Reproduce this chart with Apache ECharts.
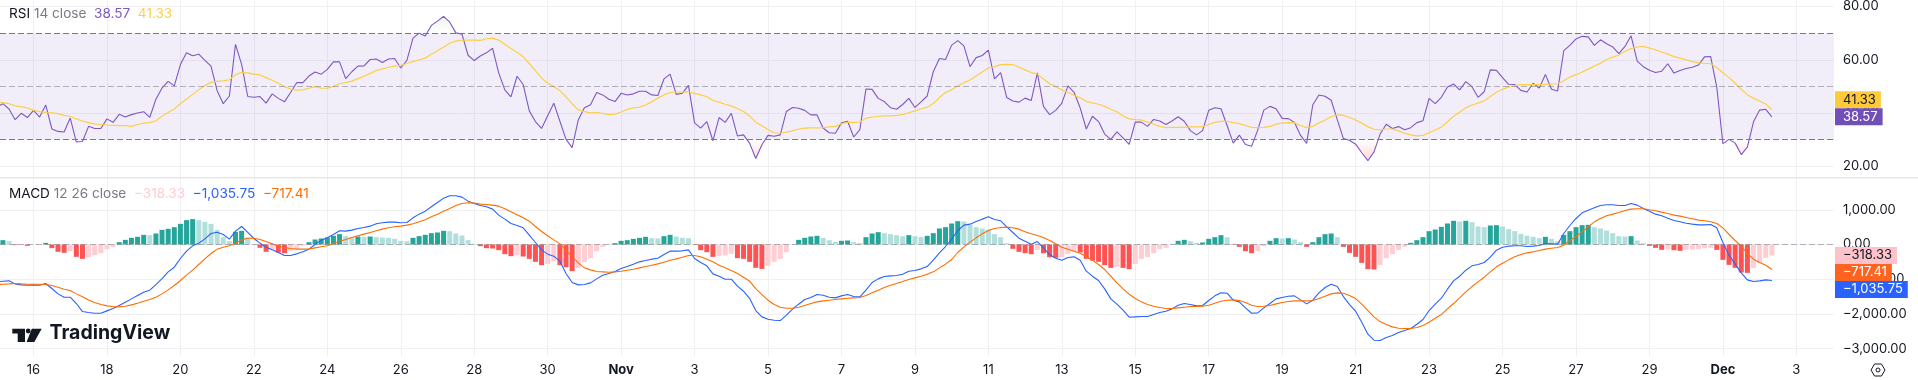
<!DOCTYPE html>
<html>
<head>
<meta charset="utf-8">
<title>RSI / MACD</title>
<style>
  html, body { margin: 0; padding: 0; background: #fff; }
  #chart { width: 1918px; height: 380px; }
</style>
<script src="https://cdn.jsdelivr.net/npm/echarts@6/dist/echarts.min.js"></script>
</head>
<body>
<div id="chart"></div>
<script>
// values, one per 4h bar (first one sits just off the left edge)
const rsiValues = [42.2,
  43.5,41.5,37.5,39.9,38.3,41.0,38.5,43.0,34.0,33.1,32.9,38.1,29.1,29.3,35.0,34.2,34.2,37.8,36.5,39.5,
  38.5,39.4,40.0,40.5,38.4,45.2,49.4,51.9,50.2,58.2,62.6,61.5,62.1,59.8,57.6,48.4,43.5,46.4,65.8,58.3,
  46.2,45.9,46.2,43.7,47.2,45.5,44.2,47.7,51.4,51.4,53.9,55.4,54.6,56.4,59.2,59.2,52.9,55.5,57.6,57.7,
  60.1,60.3,59.0,60.3,60.5,56.9,59.8,68.1,70.0,68.9,72.9,74.5,76.3,74.1,70.1,69.6,61.7,59.7,61.4,
  62.6,64.3,55.1,48.7,46.1,53.8,50.7,40.8,36.8,34.2,39.0,43.7,36.9,30.1,27.0,37.4,42.0,43.1,47.7,46.8,
  45.2,44.3,47.4,46.8,47.2,48.2,48.2,46.8,46.6,52.8,54.6,47.0,47.4,50.4,36.3,34.3,36.8,29.6,38.3,36.5,
  39.9,31.4,31.8,28.6,22.9,28.1,31.6,31.3,31.8,40.6,42.1,41.8,41.0,39.3,39.3,34.4,32.6,32.4,36.3,36.9,
  31.0,33.8,49.0,48.9,45.5,44.3,42.0,41.4,43.2,45.5,42.1,44.2,46.4,55.5,60.5,60.1,65.5,67.2,
  65.2,57.4,60.8,61.6,63.6,52.8,55.2,45.8,44.5,44.1,45.6,44.7,55.1,42.5,39.4,41.0,43.7,50.2,47.8,41.9,
  34.0,38.8,36.8,32.1,30.1,32.9,30.7,28.2,36.6,36.6,35.0,37.6,37.0,35.7,37.0,38.6,36.9,33.4,31.8,33.4,
  41.0,42.0,41.6,35.3,28.7,31.7,28.2,27.5,33.6,41.1,42.5,41.6,38.0,37.9,36.5,31.6,28.6,43.1,46.8,46.3,
  44.8,37.5,30.4,29.8,28.3,25.1,22.1,25.4,32.1,35.8,34.2,34.9,33.7,34.5,36.4,37.1,45.5,43.5,
  45.9,49.8,50.9,48.7,51.8,49.9,45.9,48.0,56.2,56.0,53.3,50.8,50.7,48.5,47.9,51.2,49.4,54.5,48.9,48.3,
  63.4,65.4,67.8,68.8,68.6,65.4,67.5,66.0,64.8,62.3,65.0,69.0,59.5,57.4,56.1,55.2,55.7,58.5,55.0,56.0,
  56.7,57.2,58.0,61.1,61.2,49.7,28.5,30.1,28.7,24.4,27.2,36.7,41.1,41.4,38.57];

const rsiMa = [44.2,
  43.9,43.5,42.7,42.4,41.9,41.1,40.5,40.2,40.1,39.8,39.1,38.8,37.8,37.0,36.4,35.9,35.7,35.5,35.4,35.3,
  35.3,35.0,35.7,36.2,36.4,37.1,38.8,40.2,41.5,43.5,45.3,47.0,48.7,50.3,51.5,51.9,52.1,52.5,54.4,55.2,
  55.1,54.6,54.3,53.3,52.3,51.2,49.9,49.0,48.6,48.7,49.3,49.9,49.3,49.3,50.0,51.0,51.4,52.0,52.9,53.8,
  54.9,56.0,56.6,57.2,57.6,57.9,58.6,59.3,60.0,60.6,62.1,63.4,64.8,66.2,67.0,67.4,67.4,67.4,67.3,
  67.9,68.1,67.4,65.8,64.2,62.8,61.1,58.6,55.9,53.1,51.2,50.0,48.4,46.1,43.5,41.2,40.5,40.1,40.2,39.9,
  39.4,39.6,40.4,41.4,41.9,42.2,43.0,44.2,45.6,46.8,47.7,47.9,47.9,48.0,47.4,46.8,46.1,44.7,44.1,43.3,
  42.7,41.7,40.6,38.9,36.5,35.2,33.8,32.6,32.4,32.8,33.3,34.0,34.3,34.4,34.4,34.5,34.8,35.0,36.0,36.5,
  36.5,36.6,38.0,38.5,38.8,38.9,38.9,39.1,39.4,40.1,40.8,41.5,42.2,43.6,45.8,47.7,48.7,50.2,
  51.4,52.4,53.9,55.4,56.9,57.4,58.2,58.3,58.2,57.2,56.2,55.2,54.6,52.8,51.0,49.9,48.7,47.7,46.7,45.7,
  44.3,43.8,43.3,42.5,41.4,40.5,38.9,37.8,37.5,37.4,36.6,35.8,35.0,34.5,34.6,34.6,34.6,34.8,34.8,34.9,
  35.7,36.5,36.9,36.9,36.4,36.0,35.3,34.6,34.5,34.6,35.0,35.8,36.2,36.4,36.3,35.3,34.5,35.0,36.3,37.4,
  38.6,39.3,39.1,38.3,37.4,36.2,34.9,33.9,33.7,34.0,34.0,33.3,32.4,31.8,31.4,31.6,32.6,33.6,
  34.7,36.7,38.8,40.4,42.0,43.0,43.7,44.6,46.2,47.8,48.9,49.8,50.3,50.7,50.7,50.7,50.7,50.8,50.9,50.9,
  52.1,53.5,54.4,55.4,56.5,57.6,58.7,60.1,61.0,61.8,63.1,64.2,64.8,65.0,64.4,63.7,62.9,62.1,61.2,60.6,
  60.0,59.3,58.8,58.7,58.5,57.1,55.1,53.3,51.2,48.9,46.9,45.5,44.5,43.4,41.33];

const macdValues = [-1075,
  -1056,-1046,-1133,-1162,-1171,-1162,-1171,-1123,-1267,-1421,-1517,-1517,-1699,-1930,-1958,-1978,-1978,-1910,-1843,-1757,
  -1661,-1565,-1469,-1373,-1315,-1152,-979,-787,-653,-403,-192,-38,38,163,317,355,288,154,384,518,
  346,173,38,-77,-154,-230,-317,-317,-269,-211,-134,0,125,192,288,394,384,413,461,490,
  528,595,624,643,643,624,634,768,874,960,1085,1210,1334,1402,1402,1363,1248,1181,1123,
  1085,1018,845,730,605,547,480,269,58,-154,-278,-336,-480,-835,-1094,-1162,-1152,-1104,-989,-883,
  -835,-778,-691,-634,-566,-499,-461,-422,-394,-288,-192,-192,-182,-154,-403,-518,-614,-845,-912,-998,
  -998,-1200,-1344,-1555,-1901,-2083,-2150,-2179,-2189,-2035,-1862,-1718,-1584,-1526,-1440,-1459,-1517,-1536,-1478,-1440,
  -1498,-1507,-1315,-1094,-989,-922,-902,-893,-854,-768,-749,-701,-634,-451,-240,-58,154,403,
  557,586,662,730,797,720,682,509,346,182,96,10,86,-96,-288,-394,-451,-374,-355,-451,
  -768,-912,-1037,-1277,-1565,-1718,-1891,-2093,-2083,-2074,-2074,-2016,-1958,-1920,-1853,-1747,-1699,-1728,-1766,-1757,
  -1613,-1478,-1392,-1402,-1603,-1651,-1824,-1978,-1968,-1824,-1699,-1565,-1526,-1488,-1478,-1594,-1709,-1603,-1392,-1238,
  -1142,-1210,-1498,-1728,-1920,-2237,-2582,-2755,-2765,-2678,-2621,-2534,-2477,-2419,-2294,-2160,-1901,-1718,
  -1546,-1286,-1046,-912,-739,-614,-576,-518,-365,-163,-77,-48,-38,-38,-58,-48,-29,29,19,10,
  317,547,749,912,989,1056,1123,1142,1142,1123,1123,1181,1133,1037,960,874,826,758,691,653,
  614,586,566,566,576,480,58,-307,-566,-816,-1018,-1066,-1046,-1018,-1035.75];

const signalValues = [-1152,
  -1142,-1133,-1123,-1133,-1142,-1142,-1142,-1152,-1181,-1229,-1286,-1325,-1421,-1507,-1594,-1670,-1728,-1766,-1786,-1795,
  -1776,-1738,-1690,-1632,-1584,-1517,-1421,-1306,-1181,-1037,-883,-739,-576,-413,-259,-134,-77,-38,38,134,
  182,182,144,86,19,-48,-86,-115,-134,-134,-125,-96,-67,-38,29,96,144,202,250,298,
  346,394,442,480,509,528,557,595,653,710,797,874,960,1037,1123,1181,1200,1190,1162,
  1152,1133,1104,1027,941,854,768,672,518,374,250,134,19,-163,-355,-528,-672,-730,-778,-787,
  -797,-787,-768,-739,-710,-672,-634,-595,-557,-509,-451,-413,-365,-317,-317,-355,-422,-499,-595,-672,
  -749,-835,-941,-1056,-1267,-1440,-1603,-1728,-1805,-1834,-1834,-1805,-1757,-1699,-1651,-1622,-1603,-1584,-1565,-1546,
  -1536,-1526,-1469,-1392,-1315,-1238,-1171,-1123,-1066,-1008,-960,-912,-854,-787,-672,-566,-432,-230,
  -67,67,192,307,403,461,490,499,480,442,365,307,259,202,115,19,-77,-134,-192,-250,
  -346,-451,-576,-720,-912,-1104,-1277,-1430,-1555,-1651,-1728,-1776,-1814,-1843,-1843,-1824,-1805,-1786,-1786,-1776,
  -1747,-1690,-1632,-1603,-1594,-1613,-1670,-1747,-1786,-1776,-1757,-1709,-1670,-1642,-1622,-1622,-1622,-1613,-1555,-1488,
  -1421,-1392,-1402,-1469,-1555,-1718,-1901,-2083,-2218,-2304,-2371,-2410,-2419,-2419,-2390,-2333,-2237,-2122,
  -2016,-1853,-1699,-1536,-1363,-1210,-1075,-941,-787,-643,-538,-442,-355,-288,-240,-211,-173,-134,-106,-86,
  -19,115,230,365,509,653,749,826,874,922,979,1018,1027,1027,998,970,931,893,845,816,
  778,739,701,682,653,605,480,288,115,-48,-259,-422,-518,-595,-717.41];

const histValues = [100,
  125,96,-19,-19,-38,-10,-10,48,-106,-211,-240,-192,-355,-413,-365,-307,-250,-134,-67,67,
  134,192,221,278,269,317,422,451,499,595,701,730,701,653,595,422,211,96,365,394,
  202,10,-96,-211,-154,-230,-250,-173,-125,-38,67,144,173,202,250,298,240,211,230,221,
  230,211,202,192,163,106,96,192,240,278,326,346,394,384,317,259,125,19,-48,
  -106,-115,-163,-278,-336,-307,-346,-413,-499,-595,-557,-480,-595,-653,-768,-672,-509,-394,-192,-67,
  -5,38,106,125,163,192,221,182,173,240,278,230,192,182,-10,-163,-221,-355,-336,-317,
  -269,-394,-413,-499,-672,-701,-614,-499,-413,-221,3,134,192,230,250,192,125,77,106,115,
  67,38,211,317,355,326,298,269,240,269,240,221,250,326,461,499,605,672,
  662,566,499,461,432,298,211,38,-125,-211,-250,-278,-154,-250,-365,-384,-365,-269,-211,-230,
  -413,-461,-499,-595,-672,-643,-672,-710,-557,-413,-365,-250,-134,-96,-10,106,134,96,48,58,
  163,211,269,211,-10,-67,-192,-250,-192,-48,106,182,173,182,144,67,-67,67,211,298,
  317,211,-67,-240,-355,-528,-710,-720,-586,-394,-278,-154,-67,48,125,211,384,432,
  509,605,682,662,682,643,518,499,547,557,518,442,384,307,250,221,182,221,163,96,
  278,384,499,557,566,499,461,403,326,240,230,240,115,38,-38,-96,-154,-144,-163,-182,
  -154,-144,-134,-106,-96,-154,-442,-586,-672,-806,-816,-672,-528,-384,-318.33];

// x axis: one label every 12 bars, starting at bar 5
const dateTicks = ['16','18','20','22','24','26','28','30','Nov','3','5','7','9','11','13','15','17','19','21','23','25','27','29','Dec','3'];
const boldTicks = ['Nov', 'Dec'];
const rsiTicks = [20, 40, 60, 80];
const macdTicks = [-3000, -2000, -1000, 0, 1000];

const rsiLegend = ['38.57', '41.33'];
const macdLegend = ['\u2212318.33', '\u22121,035.75', '\u2212717.41'];

const FONT = 'Inter, Roboto, sans-serif';
const TEXT_COLOR = '#131722';
const GRID_COLOR = '#f0f0f2';
const xTicks = dateTicks.map((d, i) => 5 + i * 12);

function withIndex(arr) {
  return arr.map((v, i) => [i - 1, v]);
}

function fmtPrice(v) {
  const s = Math.abs(v).toLocaleString('en-US', { minimumFractionDigits: 2, maximumFractionDigits: 2 });
  return (v < 0 ? '\u2212' : '') + s;
}

function xAxisFor(gridIndex, showLabels) {
  return {
    type: 'value',
    gridIndex: gridIndex,
    min: -0.474,
    max: 299.15,
    axisLine: { show: false },
    axisTick: { show: false, customValues: xTicks },
    splitLine: { show: true, lineStyle: { color: GRID_COLOR, width: 1 } },
    axisLabel: {
      show: showLabels,
      customValues: xTicks,
      margin: 8,
      hideOverlap: false,
      fontFamily: FONT,
      fontSize: 13,
      color: TEXT_COLOR,
      formatter: function (v) {
        const label = dateTicks[(v - 5) / 12];
        return boldTicks.indexOf(label) >= 0 ? '{b|' + label + '}' : label;
      },
      rich: { b: { fontWeight: 'bold', fontFamily: FONT, fontSize: 13, color: TEXT_COLOR } }
    }
  };
}

function yAxisFor(gridIndex, min, max, ticks) {
  return {
    type: 'value',
    gridIndex: gridIndex,
    position: 'right',
    min: min,
    max: max,
    axisLine: { show: false },
    axisTick: { show: false, customValues: ticks },
    splitLine: { show: true, lineStyle: { color: GRID_COLOR, width: 1 } },
    axisLabel: {
      customValues: ticks,
      margin: 9,
      fontFamily: FONT,
      fontSize: 13,
      color: TEXT_COLOR,
      padding: [0, 0, 3, 0],
      formatter: fmtPrice
    }
  };
}

function hiddenY(gridIndex, min, max) {
  return { type: 'value', gridIndex: gridIndex, min: min, max: max, show: false, splitLine: { show: false } };
}

function hiddenX(gridIndex) {
  return { type: 'value', gridIndex: gridIndex, min: -0.474, max: 299.15, show: false, splitLine: { show: false } };
}

const chart = echarts.init(document.getElementById('chart'), null, { renderer: 'canvas' });

function legendStyle(color) {
  return { color: color, fontSize: 13.6, fontFamily: FONT, fontWeight: 'normal' };
}

const legendRich = {
  n: legendStyle(TEXT_COLOR),
  g: legendStyle('#787b86'),
  rsi: legendStyle('#7e57c2'),
  ma: legendStyle('#ffd147'),
  h: legendStyle('#ffcdd2'),
  m: legendStyle('#2962ff'),
  s: legendStyle('#ff6d00')
};

const option = {
  animation: false,
  backgroundColor: '#fff',
  title: [
    {
      left: 9, top: 7, padding: 0,
      text: '{n|RSI} {g|14 close}  {rsi|' + rsiLegend[0] + '}  {ma|' + rsiLegend[1] + '}',
      textStyle: { rich: legendRich, fontFamily: FONT, fontSize: 13.6, fontWeight: 'normal' }
    },
    {
      left: 9, top: 187, padding: 0,
      text: '{n|MACD} {g|12 26 close}  {h|' + macdLegend[0] + '}  {m|' + macdLegend[1] + '}  {s|' + macdLegend[2] + '}',
      textStyle: { rich: legendRich, fontFamily: FONT, fontSize: 13.6, fontWeight: 'normal' }
    }
  ],
  grid: [
    { left: 0, top: 0, width: 1834, height: 177 },
    { left: 0, top: 178, width: 1834, height: 178 },
    // two extra strips so the area above 70 / below 30 gets clipped by the grid
    { left: 0, top: 0, width: 1834, height: 32.5 },
    { left: 0, top: 139.5, width: 1834, height: 37.5 }
  ],
  xAxis: [xAxisFor(0, false), xAxisFor(1, true), hiddenX(2), hiddenX(3)],
  yAxis: [
    yAxisFor(0, 15.98, 82.15, rsiTicks),
    yAxisFor(1, -3209, 1914, macdTicks),
    hiddenY(2, 70, 82.15),
    hiddenY(3, 15.98, 30)
  ],
  series: [
    {
      name: 'overbought',
      type: 'line',
      xAxisIndex: 2,
      yAxisIndex: 2,
      data: withIndex(rsiValues),
      showSymbol: false,
      silent: true,
      clip: true,
      lineStyle: { width: 0 },
      areaStyle: {
        origin: 'start',
        color: new echarts.graphic.LinearGradient(0, 32, 0, 14, [
          { offset: 0, color: 'rgba(76,175,80,0)' },
          { offset: 1, color: 'rgba(76,175,80,0.18)' }
        ], true)
      }
    },
    {
      name: 'oversold',
      type: 'line',
      xAxisIndex: 3,
      yAxisIndex: 3,
      data: withIndex(rsiValues),
      showSymbol: false,
      silent: true,
      clip: true,
      lineStyle: { width: 0 },
      areaStyle: {
        origin: 'end',
        color: new echarts.graphic.LinearGradient(0, 140, 0, 162, [
          { offset: 0, color: 'rgba(255,82,82,0)' },
          { offset: 1, color: 'rgba(255,82,82,0.35)' }
        ], true)
      }
    },
    {
      name: 'RSI',
      type: 'line',
      xAxisIndex: 0,
      yAxisIndex: 0,
      data: withIndex(rsiValues),
      showSymbol: false,
      lineStyle: { color: '#7e57c2', width: 1.1 },
      markArea: {
        silent: true,
        itemStyle: { color: 'rgba(126,87,194,0.1)' },
        data: [[{ yAxis: 70 }, { yAxis: 30 }]]
      },
      markLine: {
        silent: true,
        symbol: ['none', 'none'],
        label: { show: false },
        data: [
          { yAxis: 70, lineStyle: { color: '#787b86', type: [6, 3], width: 1 } },
          { yAxis: 50, lineStyle: { color: 'rgba(120,123,134,0.55)', type: [6, 3], width: 1 } },
          { yAxis: 30, lineStyle: { color: '#787b86', type: [6, 3], width: 1 } }
        ]
      }
    },
    {
      name: 'RSI MA',
      type: 'line',
      xAxisIndex: 0,
      yAxisIndex: 0,
      data: withIndex(rsiMa),
      showSymbol: false,
      lineStyle: { color: '#fdcf45', width: 1.2 }
    },
    {
      name: 'Histogram',
      type: 'bar',
      xAxisIndex: 1,
      yAxisIndex: 1,
      barWidth: 5,
      data: withIndex(histValues),
      itemStyle: {
        color: function (p) {
          const v = histValues[p.dataIndex];
          const prev = p.dataIndex > 0 ? histValues[p.dataIndex - 1] : v;
          if (v >= 0) return v > prev ? '#26a69a' : '#b2dfdb';
          return v < prev ? '#ff5252' : '#ffcdd2';
        }
      },
      markLine: {
        silent: true,
        symbol: ['none', 'none'],
        label: { show: false },
        data: [{ yAxis: 0, lineStyle: { color: 'rgba(120,123,134,0.55)', type: [6, 3], width: 1 } }]
      }
    },
    {
      name: 'MACD',
      type: 'line',
      xAxisIndex: 1,
      yAxisIndex: 1,
      data: withIndex(macdValues),
      showSymbol: false,
      lineStyle: { color: '#2962ff', width: 1.1 }
    },
    {
      name: 'Signal',
      type: 'line',
      xAxisIndex: 1,
      yAxisIndex: 1,
      data: withIndex(signalValues),
      showSymbol: false,
      lineStyle: { color: '#ff6d00', width: 1.1 }
    }
  ]
};

chart.setOption(option);

// price tags on the right, pushed apart the same way the original stacks them
const TAG_H = 17;

function tagElement(v, y, bg, fg) {
  return {
    type: 'text',
    z: 100,
    x: 1835,
    y: y - TAG_H / 2,
    silent: true,
    style: {
      text: fmtPrice(v),
      fontFamily: FONT,
      fontSize: 13,
      fill: fg,
      backgroundColor: bg,
      padding: [2, 5, 2, 8],
      lineHeight: 13,
      verticalAlign: 'top'
    }
  };
}

function lastOf(arr) {
  return arr[arr.length - 1];
}

const rsiY = chart.convertToPixel({ yAxisIndex: 0 }, lastOf(rsiValues));
const maY = Math.min(chart.convertToPixel({ yAxisIndex: 0 }, lastOf(rsiMa)), rsiY - TAG_H);
const histY = chart.convertToPixel({ yAxisIndex: 1 }, lastOf(histValues));
const sigY = Math.max(chart.convertToPixel({ yAxisIndex: 1 }, lastOf(signalValues)), histY + TAG_H);
const macdY = Math.max(chart.convertToPixel({ yAxisIndex: 1 }, lastOf(macdValues)), sigY + TAG_H);

chart.setOption({
  graphic: [
    // pane separator
    { type: 'rect', z: 50, silent: true, shape: { x: 0, y: 177, width: 1918, height: 1.5 }, style: { fill: '#e6e7ea' } },
    tagElement(lastOf(rsiMa), maY, '#ffca3a', TEXT_COLOR),
    tagElement(lastOf(rsiValues), rsiY, '#7050b8', '#fff'),
    tagElement(lastOf(histValues), histY, '#ffc2cb', TEXT_COLOR),
    tagElement(lastOf(signalValues), sigY, '#ff6320', '#fff'),
    tagElement(lastOf(macdValues), macdY, '#2962ff', '#fff'),
    // TradingView logo
    { type: 'polygon', z: 60, silent: true, shape: { points: [[12.3, 328.7], [25, 328.7], [25, 342], [17.7, 342], [17.7, 333.4], [12.3, 333.4]] }, style: { fill: '#131722' } },
    { type: 'circle', z: 60, silent: true, shape: { cx: 28.2, cy: 331, r: 2.4 }, style: { fill: '#131722' } },
    { type: 'polygon', z: 60, silent: true, shape: { points: [[31.8, 328.7], [41.7, 328.7], [34.3, 342], [26.6, 342]] }, style: { fill: '#131722' } },
    {
      type: 'text', z: 60, silent: true, x: 49.5, y: 343,
      style: { text: 'TradingView', fontFamily: 'Inter, sans-serif', fontWeight: 700, fontSize: 19.5, fill: '#131722', verticalAlign: 'bottom' }
    },
    // settings hexagon, bottom right
    { type: 'polygon', z: 60, silent: true, shape: { points: [[1871, 370], [1874.5, 364], [1881.5, 364], [1885, 370], [1881.5, 376], [1874.5, 376]] }, style: { fill: 'none', stroke: '#131722', lineWidth: 1 } },
    { type: 'circle', z: 60, silent: true, shape: { cx: 1878, cy: 370, r: 2 }, style: { fill: 'none', stroke: '#131722', lineWidth: 1 } }
  ]
});
</script>
</body>
</html>
